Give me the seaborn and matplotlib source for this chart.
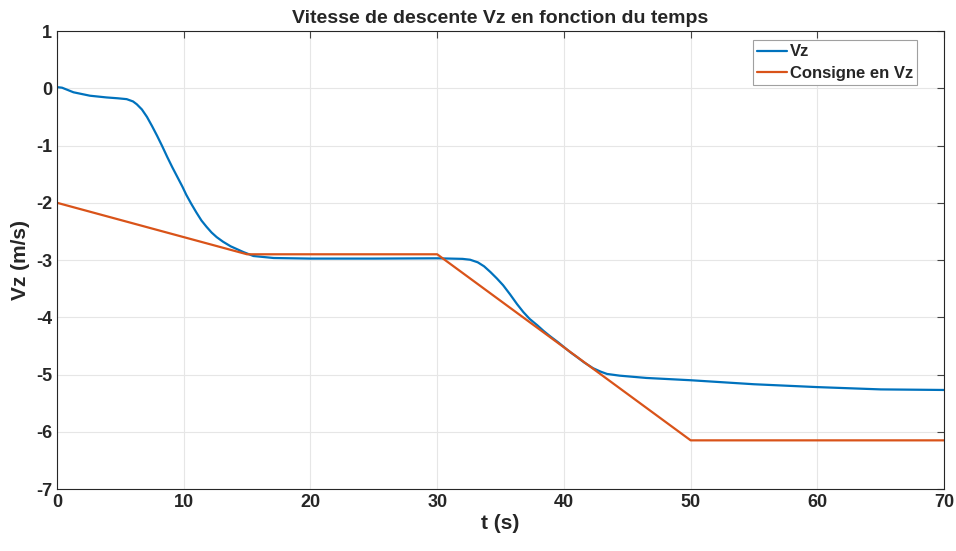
import pandas as pd
import seaborn as sns
import matplotlib
matplotlib.use("Agg")
import matplotlib.pyplot as plt

# data
t_vz = [0, 0.4, 1.3, 2.6, 3.9, 4.8, 5.5, 6.0, 6.3, 6.7, 7.1, 7.5, 7.9, 8.3,
        8.7, 9.1, 9.5, 9.9, 10.2, 10.6, 11.0, 11.4, 11.8, 12.2, 12.6, 13.1,
        13.7, 14.7, 15.5, 17.1, 20, 25, 30, 31.0, 32.0, 32.6, 33.2, 33.7,
        34.2, 34.7, 35.2, 35.75, 36.3, 36.8, 37.3, 37.9, 38.4, 38.9, 39.5,
        40.0, 40.5, 41.0, 41.6, 42.3, 42.9, 43.4, 44.4, 46.5, 50, 55, 60, 65, 70]
vz = [0.02, 0.01, -0.07, -0.13, -0.16, -0.175, -0.19, -0.23, -0.28, -0.37, -0.50,
      -0.66, -0.83, -1.01, -1.20, -1.38, -1.55, -1.72, -1.86, -2.02, -2.17,
      -2.31, -2.42, -2.52, -2.60, -2.68, -2.76, -2.86, -2.93, -2.965, -2.975,
      -2.975, -2.97, -2.975, -2.98, -2.995, -3.04, -3.11, -3.21, -3.32, -3.44,
      -3.60, -3.77, -3.91, -4.03, -4.14, -4.24, -4.33, -4.43, -4.52, -4.61,
      -4.69, -4.79, -4.89, -4.95, -4.99, -5.02, -5.06, -5.10, -5.17, -5.22,
      -5.26, -5.27]
t_cons = [0, 15, 30, 50, 70]
cons = [-2.0, -2.9, -2.9, -6.15, -6.15]

df_vz = pd.DataFrame({"t": t_vz, "v": vz})
df_cons = pd.DataFrame({"t": t_cons, "v": cons})

sns.set_style("white")
plt.rcParams['font.family'] = ['Liberation Sans', 'DejaVu Sans']
plt.rcParams['font.weight'] = 'bold'
plt.rcParams['axes.unicode_minus'] = False

fig = plt.figure(figsize=(9.56, 5.51), dpi=100)
ax = fig.add_axes([0.0596, 0.1125, 0.928, 0.8312])

sns.lineplot(data=df_vz, x="t", y="v", ax=ax, color="#0072BD", lw=1.6,
             sort=False, estimator=None, label="Vz")
sns.lineplot(data=df_cons, x="t", y="v", ax=ax, color="#D95319", lw=1.6,
             sort=False, estimator=None, label="Consigne en Vz")

ax.set_xlim(0, 70)
ax.set_ylim(-7, 1)
ax.set_xticks(range(0, 71, 10))
ax.set_yticks(range(-7, 2))
ax.grid(True, color="#e6e6e6", lw=0.8)
ax.tick_params(direction="in", top=True, right=True, labelsize=13,
               length=5, color="#444444", width=0.8)
for lbl in ax.get_xticklabels() + ax.get_yticklabels():
    lbl.set_fontweight("bold")
for s in ax.spines.values():
    s.set_color("#262626")
    s.set_linewidth(0.8)

ax.set_xlabel("t (s)", fontsize=15, fontweight="bold", labelpad=2)
ax.set_ylabel("Vz (m/s)", fontsize=15, fontweight="bold", labelpad=4)
ax.set_title("Vitesse de descente Vz en fonction du temps", fontsize=14,
             fontweight="bold", pad=6)

leg = ax.legend(loc="upper right", bbox_to_anchor=(0.9696, 0.980),
                borderaxespad=0, handlelength=1.8, handletextpad=0.15,
                borderpad=0.25, labelspacing=0.4, fancybox=False, framealpha=1,
                prop={"weight": "bold", "size": 12})
leg.get_frame().set_edgecolor("#a0a0a0")
leg.get_frame().set_linewidth(0.8)

fig.savefig("out.png", dpi=100)
